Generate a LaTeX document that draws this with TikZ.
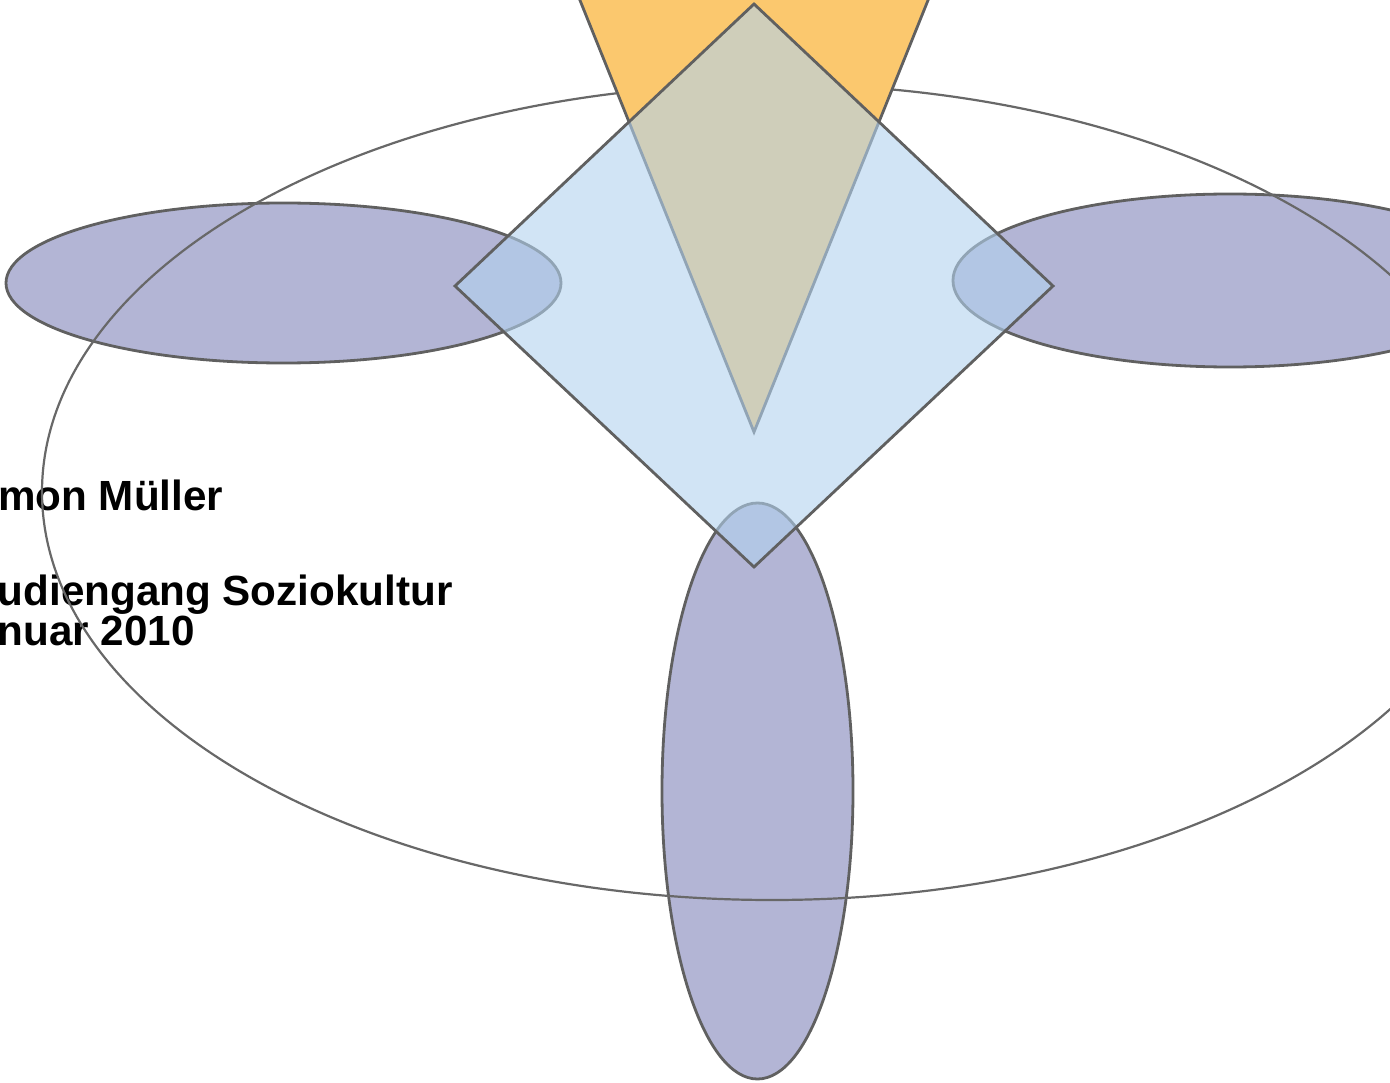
\documentclass[tikz,border=0pt]{standalone}
\usepackage{fontspec}
\setmainfont{Liberation Sans}
\definecolor{petal}{RGB}{179,181,213}
\definecolor{wedge}{RGB}{251,200,110}
\definecolor{kite}{RGB}{178,210,238}
\definecolor{edge}{RGB}{96,96,96}
\definecolor{ring}{RGB}{104,104,104}
\begin{document}
\begin{tikzpicture}[x=1pt,y=-1pt,
  petalshape/.style={fill=petal,draw=edge,line width=2.8pt},
  wedgeshape/.style={fill=wedge,draw=edge,line width=2.8pt,line join=miter},
  kiteshape/.style={fill=kite,fill opacity=0.6,draw=edge,draw opacity=1,line width=2.8pt,line join=miter},
  ringshape/.style={draw=ring,line width=2.2pt},
  label/.style={anchor=base west,inner sep=0pt,font=\fontsize{42.2}{48}\selectfont\bfseries,text=black}]
\useasboundingbox (0,0) rectangle (1390,1083);
\begin{scope}
\clip (0,0) rectangle (1390,1083);
% purple ellipses
\draw[petalshape] (283.5,283) ellipse [x radius=277.5, y radius=80];
\draw[petalshape] (1230,280.5) ellipse [x radius=277, y radius=86.5];
\draw[petalshape] (757.5,791) ellipse [x radius=95.5, y radius=288];
% text
\node[label] (t1) at (-2,510) {mon Müller};
\node[label] (t2) at (-2.5,605.5) {udiengang Soziokultur};
\node[label] (t3) at (-2.5,645.5) {nuar 2010};
% big ellipse
\draw[ringshape] (772,492) ellipse [x radius=730, y radius=408];
% orange triangle
\draw[wedgeshape] (754,432) -- (571,-22) -- (937,-22) -- cycle;
% light blue diamond
\draw[kiteshape] (754,4) -- (1053,286) -- (754,567) -- (455,286) -- cycle;
\end{scope}
\end{tikzpicture}
\end{document}
